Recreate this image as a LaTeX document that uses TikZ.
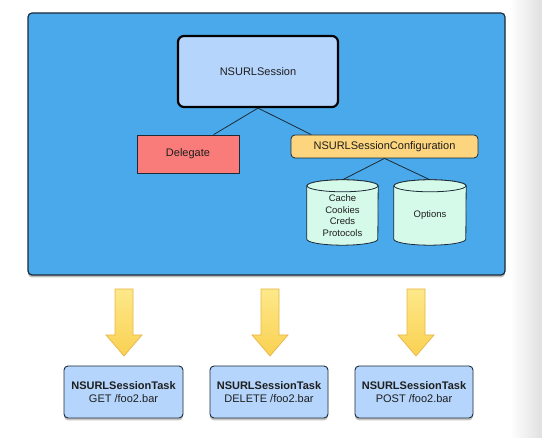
\documentclass[tikz,border=0pt]{standalone}
\usepackage{fontspec}
\setmainfont{Liberation Sans}
\usetikzlibrary{shadows,calc}
\definecolor{outerblue}{HTML}{4AA9EA}
\definecolor{lightblue}{HTML}{B5D5FC}
\definecolor{salmon}{HTML}{F97C7A}
\definecolor{confyellow}{HTML}{FCD57E}
\definecolor{mint}{HTML}{D6FAEA}
\definecolor{arrowtop}{HTML}{FDE889}
\definecolor{arrowbot}{HTML}{FAD152}
\definecolor{arrowedge}{HTML}{E8B648}
\definecolor{edgedark}{HTML}{1C2B38}
\definecolor{txt}{HTML}{1E1E1E}
\tikzset{
  boxtext/.style={text=txt, font=\fontsize{11}{13}\selectfont, align=center, inner sep=0pt},
  sessbox/.style={boxtext, draw=black, line width=2.2pt, fill=lightblue, rounded corners=6pt, minimum width=160pt, minimum height=71pt},
  delbox/.style={boxtext, draw=edgedark, line width=0.8pt, fill=salmon, minimum width=102pt, minimum height=38pt},
  confbox/.style={boxtext, draw=edgedark, line width=0.8pt, fill=confyellow, rounded corners=4pt, minimum width=187pt, minimum height=23pt},
  cyltext/.style={text=txt, font=\fontsize{9.5}{11.6}\selectfont, align=center, inner sep=0pt, minimum width=71pt, minimum height=65pt},
  cylbody/.style={draw=edgedark, line width=0.8pt, fill=mint},
  taskbox/.style={boxtext, draw=edgedark, line width=0.9pt, fill=lightblue, rounded corners=4pt, minimum width=118pt, minimum height=52pt,
    drop shadow={shadow xshift=0pt, shadow yshift=-2.5pt, opacity=0.45}},
  link/.style={draw=edgedark, line width=0.8pt},
  blockarrow/.style={draw=arrowedge, line width=0.7pt, top color=arrowtop, bottom color=arrowbot},
}
\begin{document}
\begin{tikzpicture}[x=1pt,y=1pt]
\useasboundingbox (0,0) rectangle (542,438);
\fill[white] (0,0) rectangle (542,438);
% right gray strip
\shade[left color=white, right color=gray!24] (510,0) rectangle (542,438);
% outer container
\node[draw=edgedark, line width=1.2pt, fill=outerblue, rounded corners=4pt, minimum width=477pt, minimum height=262pt, inner sep=0pt,
  drop shadow={shadow xshift=0pt, shadow yshift=-2.5pt, opacity=0.5}] (outer) at (266.5,294) {};
% nodes
\node[sessbox] (sess) at (258,366.5) {NSURLSession};
\node[delbox] (del) at (188,284) {Delegate};
\node[confbox] (conf) at (384.5,291.5) {NSURLSessionConfiguration};
% cylinders
\node[cyltext] (cylA) at (342.5,225.5) {};
\node[cyltext, minimum width=72pt] (cylB) at (430,225.5) {};
\foreach \c/\rx in {cylA/35.5, cylB/36}{
  \path[cylbody] ($(\c.north west)+(0,-6)$) -- ($(\c.south west)+(0,6)$)
    arc[start angle=180, end angle=360, x radius=\rx, y radius=6]
    -- ($(\c.north east)+(0,-6)$)
    arc[start angle=0, end angle=180, x radius=\rx, y radius=6] -- cycle;
  \draw[cylbody] ($(\c.north)+(0,-6)$) ellipse[x radius=\rx, y radius=6];
}
\node[cyltext] at ($(cylA.center)+(0,-3)$) {Cache\\Cookies\\Creds\\Protocols};
\node[cyltext, minimum width=72pt] at ($(cylB.center)+(0,-3)$) {Options};
% links
\draw[link] (sess.south) -- ($(del.north west)!0.75!(del.north east)$);
\draw[link] (sess.south) -- ($(conf.north west)!0.11!(conf.north east)$);
\draw[link] (conf.south) -- (cylA.north);
\draw[link] (conf.south) -- (cylB.north);
% tasks
\node[taskbox, minimum width=119pt] (t1) at (123.5,46) {\textbf{NSURLSessionTask}\\GET /foo2.bar};
\node[taskbox] (t2) at (269,46) {\textbf{NSURLSessionTask}\\DELETE /foo2.bar};
\node[taskbox] (t3) at (414,46) {\textbf{NSURLSessionTask}\\POST /foo2.bar};
% block arrows
\foreach \t/\cx in {t1/124, t2/270, t3/416}{
  \coordinate (a\t) at (\cx,149);
  \path[blockarrow] ($(a\t)+(-9,0)$) -- ($(a\t)+(9,0)$) -- ($(a\t)+(9,-46)$) -- ($(a\t)+(18,-46)$)
    -- ($(a\t)+(0,-67)$) -- ($(a\t)+(-18,-46)$) -- ($(a\t)+(-9,-46)$) -- cycle;
}
\end{tikzpicture}
\end{document}
